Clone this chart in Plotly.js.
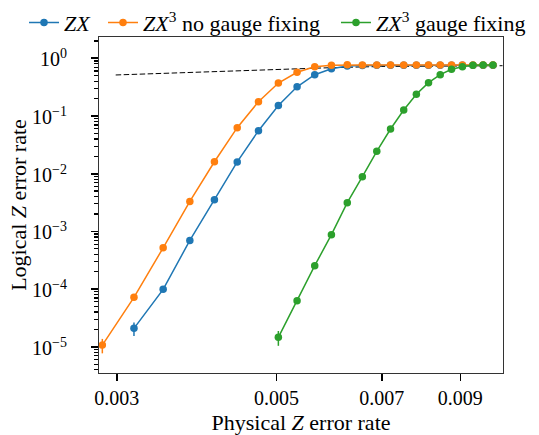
<!DOCTYPE html>
<html>
<head>
<meta charset="utf-8">
<script src="https://cdn.plot.ly/plotly-3.0.1.min.js"></script>
<style>
html,body{margin:0;padding:0;background:#fff;}
#chart{width:539px;height:435px;}
</style>
</head>
<body>
<div id="chart"></div>
<script>
// ---- data ----
const zxX = [0.00317, 0.00348, 0.00379, 0.00410, 0.00441, 0.00472, 0.00503, 0.00534, 0.00565, 0.00596, 0.00627,
             0.00658, 0.00689, 0.00720, 0.00751, 0.00782, 0.00813, 0.00844, 0.00875, 0.00906, 0.00937, 0.00968, 0.00999];
const zxY = [2.09e-5, 9.9e-5, 6.98e-4, 3.53e-3, 0.0160, 0.0556, 0.152, 0.321, 0.520, 0.658, 0.736,
             0.752, 0.755, 0.756, 0.755, 0.756, 0.755, 0.756, 0.755, 0.756, 0.755, 0.756, 0.755];
const zxErr = [5.5e-6, 9e-6, 3e-5, 1e-4, 3e-4, 6e-4, 1e-3, 1.5e-3, 1.5e-3, 1.5e-3, 1.4e-3,
               1.4e-3, 1.4e-3, 1.4e-3, 1.4e-3, 1.4e-3, 1.4e-3, 1.4e-3, 1.4e-3, 1.4e-3, 1.4e-3, 1.4e-3, 1.4e-3];

const ngX = [0.002865, 0.00317, 0.00348, 0.00379, 0.00410, 0.00441, 0.00472, 0.00503, 0.00534, 0.00565, 0.00596, 0.00627,
             0.00658, 0.00689, 0.00720, 0.00751, 0.00782, 0.00813, 0.00844, 0.00875, 0.00906, 0.00937, 0.00968, 0.00999];
const ngY = [1.07e-5, 7.2e-5, 5.2e-4, 3.3e-3, 0.0161, 0.0627, 0.177, 0.373, 0.572, 0.713, 0.759, 0.772,
             0.765, 0.766, 0.765, 0.764, 0.765, 0.766, 0.765, 0.765, 0.764, 0.765, 0.765, 0.765];
const ngErr = [3e-6, 8e-6, 2.5e-5, 1e-4, 3e-4, 7e-4, 1.2e-3, 1.5e-3, 1.5e-3, 1.4e-3, 1.4e-3, 1.3e-3,
               1.3e-3, 1.3e-3, 1.3e-3, 1.3e-3, 1.3e-3, 1.3e-3, 1.3e-3, 1.3e-3, 1.3e-3, 1.3e-3, 1.3e-3, 1.3e-3];

const gfX = [0.00503, 0.00534, 0.00565, 0.00596, 0.00627, 0.00658, 0.00689, 0.00720, 0.00751,
             0.00782, 0.00813, 0.00844, 0.00875, 0.00906, 0.00937, 0.00968, 0.00999];
const gfY = [1.46e-5, 6.27e-5, 2.55e-4, 8.77e-4, 3.14e-3, 8.87e-3, 0.0244, 0.0595, 0.127,
             0.238, 0.378, 0.520, 0.645, 0.715, 0.756, 0.765, 0.765];
const gfErr = [4.2e-6, 5e-6, 1.5e-5, 4e-5, 1e-4, 2.5e-4, 5e-4, 8e-4, 1.2e-3,
               1.5e-3, 1.5e-3, 1.5e-3, 1.4e-3, 1.4e-3, 1.3e-3, 1.3e-3, 1.3e-3];

// dashed reference curve
const refX = [0.00299, 0.00367, 0.0045, 0.0052, 0.0060, 0.0070, 0.0085, 0.0103];
const refY = [0.514, 0.563, 0.613, 0.650, 0.690, 0.721, 0.735, 0.744];

// axis ticks
const xTickVals = [0.003, 0.005, 0.007, 0.009];
const xTickText = ['0.003', '0.005', '0.007', '0.009'];
const yTickVals = [1e-5, 1e-4, 1e-3, 1e-2, 1e-1, 1];
const yTickText = ['10<sup>\u22125</sup>', '10<sup>\u22124</sup>', '10<sup>\u22123</sup>',
                   '10<sup>\u22122</sup>', '10<sup>\u22121</sup>', '10<sup>0</sup>'];
const yMinorVals = [];
for (let e = -6; e <= 0; e++) {
  for (let m = 2; m <= 9; m++) yMinorVals.push(m * Math.pow(10, e));
}

const FONT = 'Liberation Serif, Times New Roman, serif';
const C_BLUE = '#1f77b4', C_ORANGE = '#ff7f0e', C_GREEN = '#2ca02c';

function series(name, x, y, err, color, legendId) {
  return {
    type: 'scatter', mode: 'lines+markers', name: name, legend: legendId,
    x: x, y: y,
    error_y: {type: 'data', array: err, visible: true, color: color, thickness: 1.5, width: 0},
    line: {color: color, width: 1.5},
    marker: {color: color, size: 7.5}
  };
}

const traces = [
  {type: 'scatter', mode: 'lines', x: refX, y: refY, showlegend: false, hoverinfo: 'skip',
   line: {color: '#000', width: 1, dash: '5.5px,2.5px'}},
  series('<i>ZX</i>', zxX, zxY, zxErr, C_BLUE, 'legend'),
  series('<i>ZX</i><sup>3</sup> no gauge fixing', ngX, ngY, ngErr, C_ORANGE, 'legend2'),
  series('<i>ZX</i><sup>3</sup> gauge fixing', gfX, gfY, gfErr, C_GREEN, 'legend3')
];

function legendAt(xFrac) {
  return {
    orientation: 'h', xref: 'paper', yref: 'paper',
    x: xFrac, xanchor: 'left', y: 1.105, yanchor: 'top',
    font: {family: FONT, size: 22, color: '#000'},
    bgcolor: 'rgba(0,0,0,0)', itemwidth: 30, tracegroupgap: 0
  };
}

// y tick labels placed on the y scale (log axis: positions in log10 units)
const yLabelAnnotations = yTickVals.map((v, i) => ({
  xref: 'paper', yref: 'y', x: -0.074, y: Math.log10(v),
  xanchor: 'right', yanchor: 'middle', showarrow: false,
  text: yTickText[i], font: {family: FONT, size: 20, color: '#000'}
}));

const layout = {
  width: 539, height: 435,
  margin: {l: 99, r: 36, t: 37, b: 62, autoexpand: false},
  paper_bgcolor: '#fff', plot_bgcolor: '#fff',
  font: {family: FONT, size: 20, color: '#000'},
  showlegend: true,
  legend: legendAt(-0.1856),
  legend2: legendAt(0.0099),
  legend3: legendAt(0.5866),
  annotations: yLabelAnnotations,
  xaxis: {
    type: 'log', range: [-2.5475, -1.9865],
    tickmode: 'array', tickvals: xTickVals, ticktext: xTickText,
    ticks: 'outside', ticklen: 7, tickwidth: 1.6, tickcolor: '#000',
    showline: true, linecolor: '#333', linewidth: 1.3, mirror: true,
    showgrid: false, zeroline: false,
    tickfont: {family: FONT, size: 20, color: '#000'},
    title: {text: 'Physical <i>Z</i> error rate', font: {family: FONT, size: 22, color: '#000'}, standoff: 7},
    automargin: false
  },
  yaxis: {
    type: 'log', range: [-5.454, 0.369],
    tickmode: 'array', tickvals: yTickVals, showticklabels: false,
    ticks: 'outside', ticklen: 7, tickwidth: 1.6, tickcolor: '#000',
    minor: {tickmode: 'array', tickvals: yMinorVals, ticks: 'outside', ticklen: 4, tickwidth: 1.2, tickcolor: '#000', showgrid: false},
    showline: true, linecolor: '#333', linewidth: 1.3, mirror: true,
    showgrid: false, zeroline: false,
    title: {text: 'Logical <i>Z</i> error rate', font: {family: FONT, size: 22, color: '#000'}, standoff: 58},
    automargin: false
  }
};

Plotly.newPlot('chart', traces, layout, {displayModeBar: false, staticPlot: true});
</script>
</body>
</html>
